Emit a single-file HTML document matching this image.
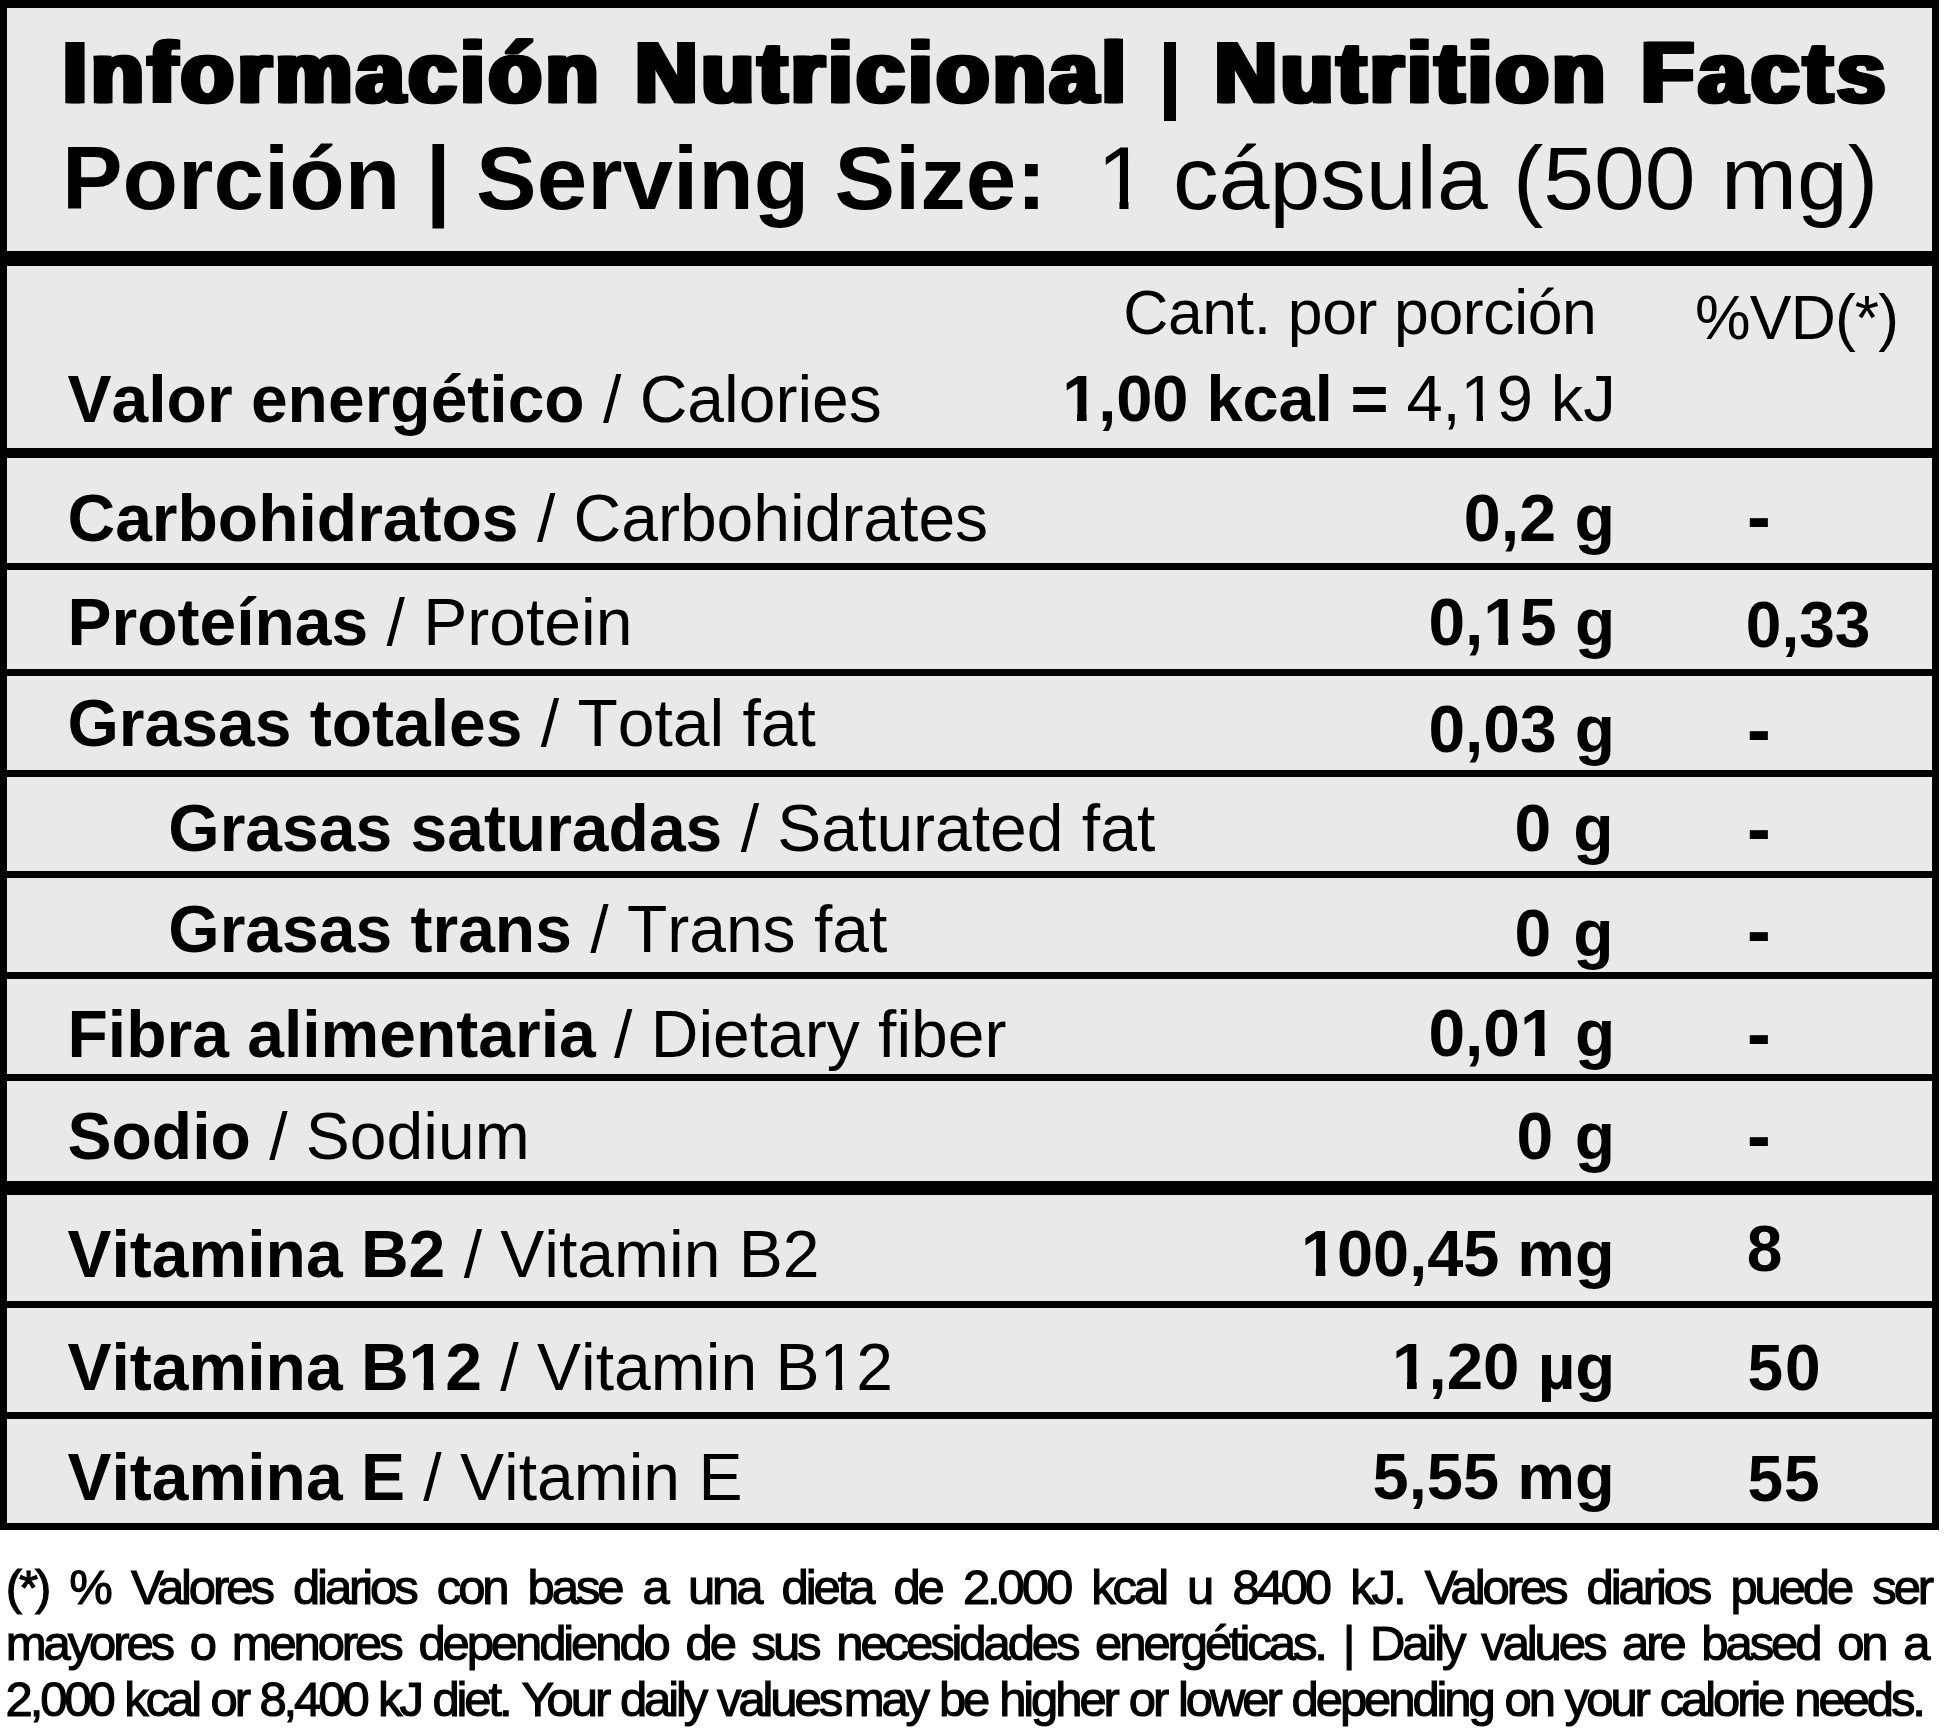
<!DOCTYPE html>
<html><head><meta charset="utf-8"><title>Nutrition Facts</title>
<style>
html,body{margin:0;padding:0;background:#fff}
body{width:1949px;height:1734px;position:relative;overflow:hidden;font-family:"Liberation Sans",sans-serif;color:#000;font-kerning:none}
.bx,.k,.t{position:absolute}
.k{background:#000}
.t{line-height:1;white-space:nowrap;margin:0;padding:0}
b{font-weight:bold}

.o1,.o1b{display:inline-block}.o1{clip-path:polygon(-.1em -.2em,.7em -.2em,.7em .748em,.345em .748em,.345em 1.2em,.246em 1.2em,.246em .748em,-.1em .748em)}.o1b{clip-path:polygon(-.1em -.2em,.7em -.2em,.7em .722em,.376em .722em,.376em 1.2em,.228em 1.2em,.228em .722em,-.1em .722em)}.tw{font-weight:bold}.tw::before,.tw::after{position:absolute;top:0}.tw::before{left:-2.3px}.tw::after{left:2.3px}.w0::before,.w0::after{content:"Información"}.w1::before,.w1::after{content:"Nutricional"}.w2::before,.w2::after{content:"Nutrition"}.w3::before,.w3::after{content:"Facts"}
</style></head><body>
<div class="bx" style="left:0;top:0;width:1939px;height:1530px;background:#e9e9e9"></div>
<div class="k" style="left:0;top:0;width:7px;height:1530px"></div>
<div class="k" style="left:1931.5px;top:0;width:7.5px;height:1530px"></div>
<div class="k" style="left:0;top:0px;width:1939px;height:7.5px"></div>
<div class="k" style="left:0;top:251px;width:1939px;height:15px"></div>
<div class="k" style="left:0;top:448px;width:1939px;height:10px"></div>
<div class="k" style="left:0;top:563px;width:1939px;height:7px"></div>
<div class="k" style="left:0;top:669px;width:1939px;height:7px"></div>
<div class="k" style="left:0;top:770px;width:1939px;height:7px"></div>
<div class="k" style="left:0;top:871px;width:1939px;height:7px"></div>
<div class="k" style="left:0;top:972px;width:1939px;height:7px"></div>
<div class="k" style="left:0;top:1074px;width:1939px;height:7px"></div>
<div class="k" style="left:0;top:1181px;width:1939px;height:14px"></div>
<div class="k" style="left:0;top:1301px;width:1939px;height:7px"></div>
<div class="k" style="left:0;top:1412px;width:1939px;height:7px"></div>
<div class="k" style="left:0;top:1523px;width:1939px;height:7px"></div>
<div class="k" style="left:1164.3px;top:41.7px;width:11.4px;height:79px"></div>
<div class="t tw w0" style="left:63.00px;top:29.10px;font-size:86px;letter-spacing:4.310px;-webkit-text-stroke:2.4px #000;"><b>Información</b></div>
<div class="t tw w1" style="left:635.30px;top:29.10px;font-size:86px;letter-spacing:4.120px;-webkit-text-stroke:2.4px #000;"><b>Nutricional</b></div>
<div class="t tw w2" style="left:1214.70px;top:29.10px;font-size:86px;letter-spacing:4.000px;-webkit-text-stroke:2.4px #000;"><b>Nutrition</b></div>
<div class="t tw w3" style="left:1641.30px;top:29.10px;font-size:86px;letter-spacing:4.775px;-webkit-text-stroke:2.4px #000;"><b>Facts</b></div>
<div class="t " style="left:62.40px;top:134.26px;font-size:89px;transform-origin:0 0.8465em;transform:scale(1.0207,1);"><b>Porción | Serving Size:</b></div>
<div class="t " style="left:1097.00px;top:134.26px;font-size:89px;transform-origin:0 0.8465em;transform:scale(1.0253,1);"><span class="o1">1</span> cápsula (500 mg)</div>
<div class="t " style="left:1123.20px;top:280.79px;font-size:62.5px;letter-spacing:-0.363px;">Cant. por porción</div>
<div class="t " style="left:1695.10px;top:286.09px;font-size:62.5px;letter-spacing:-0.860px;">%VD(*)</div>
<div class="t " style="left:67.50px;top:365.63px;font-size:66px;"><b>Valor energético</b> / Calories</div>
<div class="t " style="left:1062.20px;top:366.48px;font-size:65px;letter-spacing:-0.072px;"><b><span class="o1b">1</span>,00 kcal =</b> 4,<span class="o1">1</span>9 kJ</div>
<div class="t " style="left:67.50px;top:485.33px;font-size:66px;"><b>Carbohidratos</b> / Carbohidrates</div>
<div class="t " style="left:1463.80px;top:484.78px;font-size:66.42px;"><b>0,2 g</b></div>
<div class="t " style="left:1746.90px;top:481.84px;font-size:71.3px;transform-origin:0 0.8465em;transform:scale(1,1.04);"><b>-</b></div>
<div class="t " style="left:67.50px;top:589.33px;font-size:66px;"><b>Proteínas</b> / Protein</div>
<div class="t " style="left:1428.40px;top:590.23px;font-size:65.88px;"><b>0,<span class="o1b">1</span>5 g</b></div>
<div class="t " style="left:1745.80px;top:592.82px;font-size:64px;"><b>0,33</b></div>
<div class="t " style="left:67.50px;top:690.13px;font-size:66px;"><b>Grasas totales</b> / Total fat</div>
<div class="t " style="left:1428.40px;top:697.23px;font-size:65.88px;"><b>0,03 g</b></div>
<div class="t " style="left:1746.90px;top:695.04px;font-size:71.3px;transform-origin:0 0.8465em;transform:scale(1,1.04);"><b>-</b></div>
<div class="t " style="left:168.30px;top:795.13px;font-size:66px;"><b>Grasas saturadas</b> / Saturated fat</div>
<div class="t " style="left:1514.50px;top:794.63px;font-size:66px;letter-spacing:1.900px;"><b>0 g</b></div>
<div class="t " style="left:1746.90px;top:793.84px;font-size:71.3px;transform-origin:0 0.8465em;transform:scale(1,1.04);"><b>-</b></div>
<div class="t " style="left:168.30px;top:896.13px;font-size:66px;"><b>Grasas trans</b> / Trans fat</div>
<div class="t " style="left:1514.50px;top:900.13px;font-size:66px;letter-spacing:1.900px;"><b>0 g</b></div>
<div class="t " style="left:1746.90px;top:895.84px;font-size:71.3px;transform-origin:0 0.8465em;transform:scale(1,1.04);"><b>-</b></div>
<div class="t " style="left:67.50px;top:1000.93px;font-size:66px;"><b>Fibra alimentaria</b> / Dietary fiber</div>
<div class="t " style="left:1428.40px;top:1000.83px;font-size:65.88px;"><b>0,0<span class="o1b">1</span> g</b></div>
<div class="t " style="left:1746.90px;top:998.74px;font-size:71.3px;transform-origin:0 0.8465em;transform:scale(1,1.04);"><b>-</b></div>
<div class="t " style="left:67.50px;top:1102.83px;font-size:66px;"><b>Sodio</b> / Sodium</div>
<div class="t " style="left:1516.60px;top:1102.63px;font-size:66px;letter-spacing:1.500px;"><b>0 g</b></div>
<div class="t " style="left:1746.90px;top:1100.64px;font-size:71.3px;transform-origin:0 0.8465em;transform:scale(1,1.04);"><b>-</b></div>
<div class="t " style="left:67.50px;top:1221.43px;font-size:66px;"><b>Vitamina B2</b> / Vitamin B2</div>
<div class="t " style="left:1301.00px;top:1222.11px;font-size:64.84px;"><b><span class="o1b">1</span>00,45 mg</b></div>
<div class="t " style="left:1746.80px;top:1217.32px;font-size:64px;"><b>8</b></div>
<div class="t " style="left:67.50px;top:1333.63px;font-size:66px;"><b>Vitamina B<span class="o1b">1</span>2</b> / Vitamin B<span class="o1">1</span>2</div>
<div class="t " style="left:1392.10px;top:1333.70px;font-size:65.45px;"><b><span class="o1b">1</span>,20 µg</b></div>
<div class="t " style="left:1747.50px;top:1336.32px;font-size:64px;letter-spacing:2.000px;"><b>50</b></div>
<div class="t " style="left:67.50px;top:1444.23px;font-size:66px;"><b>Vitamina E</b> / Vitamin E</div>
<div class="t " style="left:1372.60px;top:1443.96px;font-size:65.02px;"><b>5,55 mg</b></div>
<div class="t " style="left:1747.50px;top:1447.32px;font-size:64px;letter-spacing:1.000px;"><b>55</b></div>
<div class="t " style="left:5.80px;top:1562.82px;font-size:49px;letter-spacing:-3.100px;word-spacing:10.644px;-webkit-text-stroke:1.1px #000;font-kerning:normal;">(*) % Valores diarios con base a una dieta de 2.000 kcal u 8400 kJ. Valores diarios puede ser</div>
<div class="t " style="left:5.80px;top:1619.22px;font-size:49px;letter-spacing:-3.100px;word-spacing:7.264px;-webkit-text-stroke:1.1px #000;font-kerning:normal;">mayores o menores dependiendo de sus necesidades energéticas. | Daily values are based on a</div>
<div class="t " style="left:5.60px;top:1675.22px;font-size:49px;letter-spacing:-3.100px;word-spacing:1.020px;-webkit-text-stroke:1.1px #000;font-kerning:normal;">2,000 kcal or 8,400 kJ diet.</div>
<div class="t " style="left:521.50px;top:1675.22px;font-size:49px;letter-spacing:-3.100px;word-spacing:1.300px;-webkit-text-stroke:1.1px #000;font-kerning:normal;">Your daily values</div>
<div class="t " style="left:843.70px;top:1675.22px;font-size:49px;letter-spacing:-3.100px;word-spacing:1.444px;-webkit-text-stroke:1.1px #000;font-kerning:normal;">may be higher or lower depending on your calorie needs.</div>
</body></html>
